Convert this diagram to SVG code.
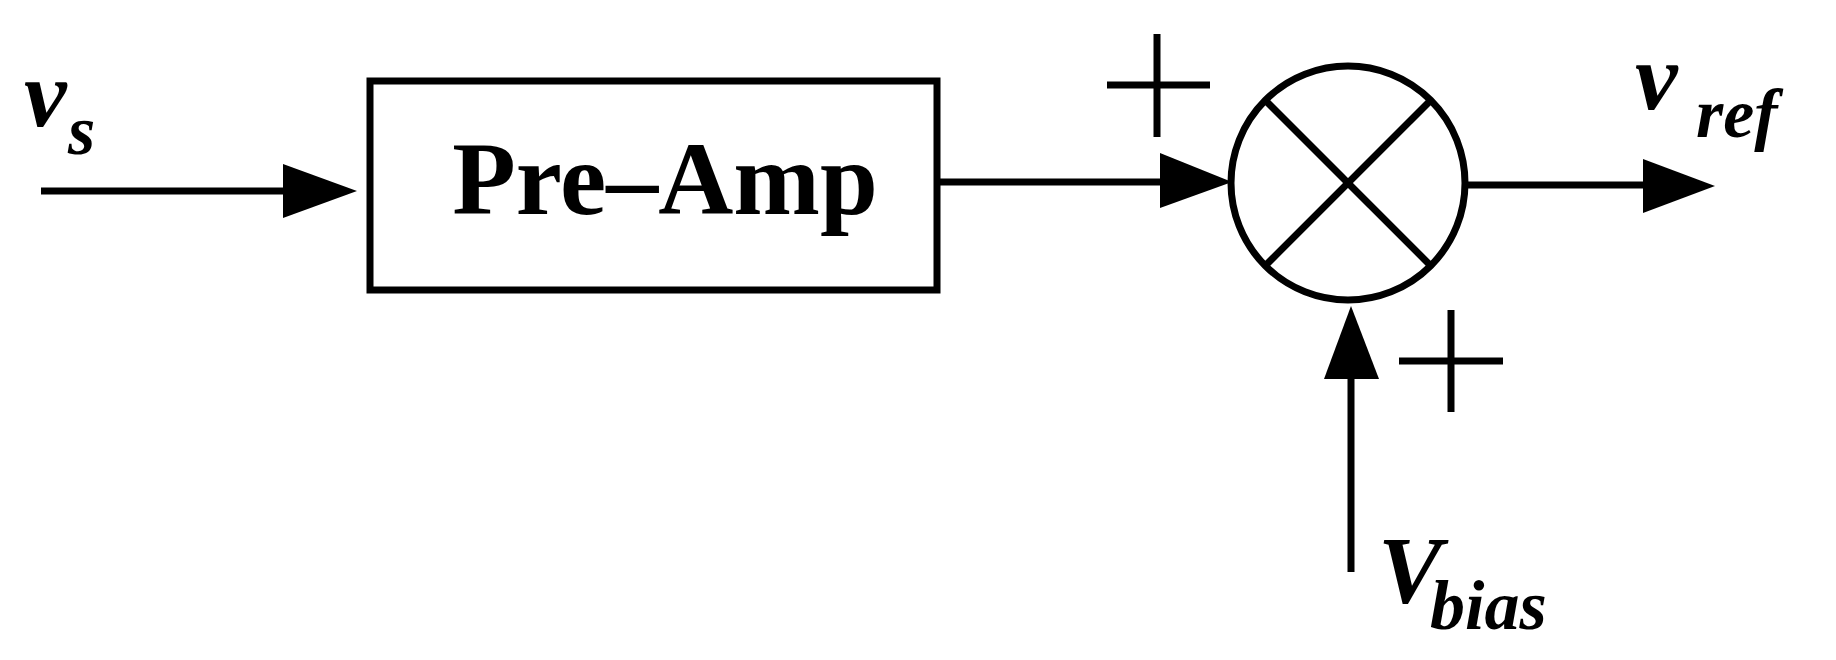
<svg xmlns="http://www.w3.org/2000/svg" width="1836" height="660" viewBox="0 0 1836 660">
<style>
.l{stroke:#000;stroke-width:7;fill:none}
.ah{fill:#000}
.t{font-family:"Liberation Serif","Times New Roman",serif;font-weight:bold;fill:#000}
.i{font-style:italic}
</style>
<rect width="1836" height="660" fill="#fff"/>
<g id="connectors">
<line class="l" x1="41" y1="191" x2="290" y2="191"/>
<polygon class="ah" points="283,164 357,191 283,218"/>
<line class="l" x1="937" y1="182" x2="1170" y2="182"/>
<polygon class="ah" points="1160,153 1232,182 1160,208"/>
<line class="l" x1="1465" y1="185" x2="1650" y2="185"/>
<polygon class="ah" points="1643,159 1715,186 1643,213"/>
<line class="l" x1="1351" y1="572" x2="1351" y2="370"/>
<polygon class="ah" points="1324,379 1351,306 1379,379"/>
</g>
<g id="preamp">
<rect class="l" x="370" y="81" width="567" height="209"/>
<text class="t" x="665" y="214" font-size="104" text-anchor="middle">Pre–Amp</text>
</g>
<g id="summer">
<circle class="l" cx="1348" cy="183" r="117"/>
<line class="l" x1="1266" y1="101" x2="1430" y2="265"/>
<line class="l" x1="1430" y1="101" x2="1266" y2="265"/>
</g>
<g id="plus1">
<line class="l" x1="1157" y1="34" x2="1157" y2="137"/>
<line class="l" x1="1107" y1="85" x2="1210" y2="85"/>
</g>
<g id="plus2">
<line class="l" x1="1451" y1="310" x2="1451" y2="412"/>
<line class="l" x1="1399" y1="361" x2="1503" y2="361"/>
</g>
<g id="labels">
<text class="t i" x="24" y="126" font-size="96">v</text>
<text class="t i" x="68" y="154" font-size="70">s</text>
<text class="t i" x="1635" y="109" font-size="96">v</text>
<text class="t i" x="1696" y="137" font-size="70">ref</text>
<text class="t i" x="1378" y="603" font-size="96">V</text>
<text class="t i" x="1430" y="629" font-size="70">bias</text>
</g>
</svg>
